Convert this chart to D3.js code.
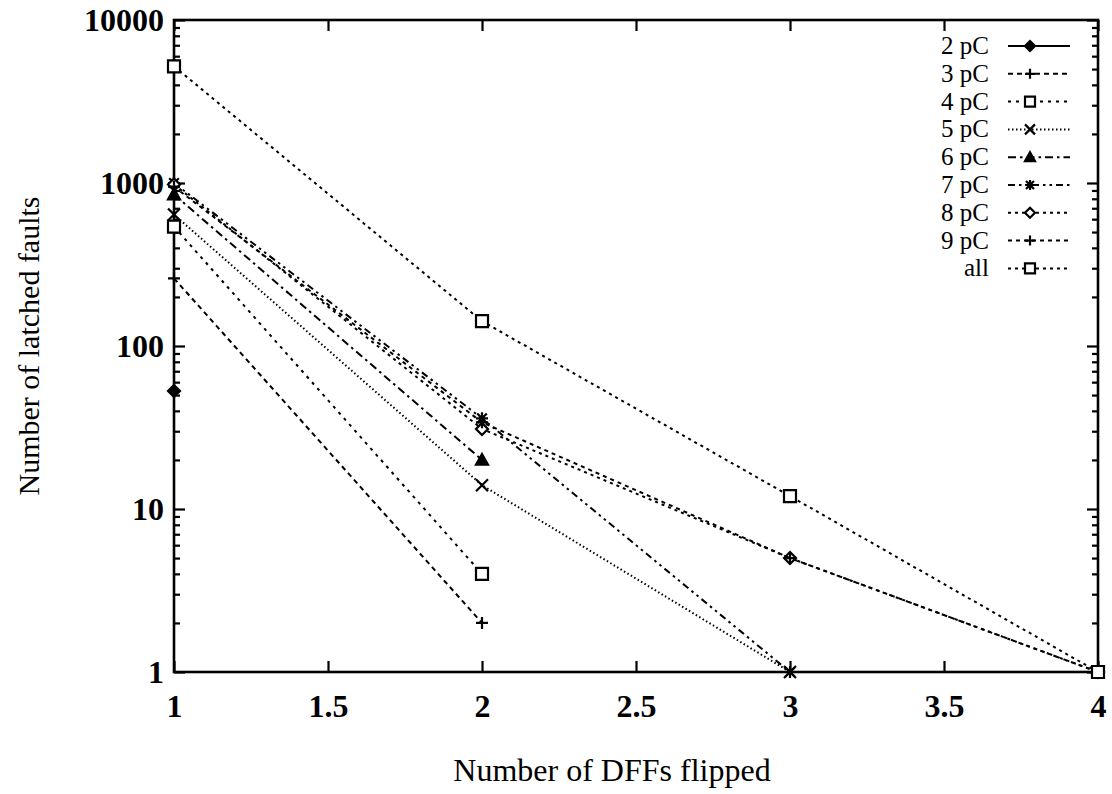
<!DOCTYPE html>
<html>
<head>
<meta charset="utf-8">
<script src="https://cdn.jsdelivr.net/npm/d3@7"></script>
<style>
  body { margin: 0; background: #fff; }
  text { font-family: "Liberation Serif", "DejaVu Serif", serif; fill: #000; }
</style>
</head>
<body>
<svg id="chart" width="1112" height="794"></svg>
<script>
// Latched faults per number of flipped DFFs, one series per injected charge
const seriesNames = ["2 pC", "3 pC", "4 pC", "5 pC", "6 pC", "7 pC", "8 pC", "9 pC", "all"];
const flipped = [1, 2, 3, 4];
const pc2 = [53];
const pc3 = [260, 2];
const pc4 = [540, 4];
const pc5 = [640, 14, 1];
const pc6 = [850, 20];
const pc7 = [1000, 36, 1];
const pc8 = [980, 31, 5, 1];
const pc9 = [950, 34, 5, 1];
const pcAll = [5200, 142, 12, 1];
const xTicks = [1, 1.5, 2, 2.5, 3, 3.5, 4];
const yTicks = [1, 10, 100, 1000, 10000];

const seriesValues = [pc2, pc3, pc4, pc5, pc6, pc7, pc8, pc9, pcAll];

// line pattern and point symbol for each series
const styles = [
  { dash: null,            mark: "diamond",  fill: "#000" },
  { dash: "5,4",           mark: "plus",     fill: "none" },
  { dash: "3,5",           mark: "square",   fill: "#fff" },
  { dash: "1.5,2.5",       mark: "times",    fill: "none" },
  { dash: "8,4,2.5,4",     mark: "triangle", fill: "#000" },
  { dash: "7,4,2.5,4,2.5,4", mark: "star",   fill: "none" },
  { dash: "3,4",           mark: "diamondO", fill: "#fff" },
  { dash: "4,4",           mark: "plus",     fill: "none" },
  { dash: "3,4",           mark: "square",   fill: "#fff" }
];

const W = 1112, H = 794;
const margin = { left: 174, right: 14, top: 20, bottom: 122 };
const svg = d3.select("#chart");

const x = d3.scaleLinear().domain([1, 4]).range([margin.left, W - margin.right]);
const y = d3.scaleLog().domain([1, 10000]).range([H - margin.bottom, margin.top]);

const minorY = [];
for (let d = 1; d < 10000; d *= 10)
  for (let k = 2; k <= 9; k++) minorY.push(d * k);

const x0 = x.range()[0], x1 = x.range()[1];
const yb = y.range()[0], yt = y.range()[1];

function styleAxis(g, fontSize) {
  g.select(".domain").remove();
  g.selectAll(".tick line").attr("stroke", "#000").attr("stroke-width", 2.2);
  g.selectAll(".tick text")
    .style("font-size", fontSize + "px")
    .style("font-weight", "bold")
    .attr("fill", "#000");
}

// bottom and top axes (ticks point inward)
svg.append("g").attr("transform", `translate(0,${yb})`)
  .call(d3.axisBottom(x).tickValues(xTicks).tickSize(-11).tickPadding(22).tickFormat(d3.format("")))
  .call(g => styleAxis(g, 32));
svg.append("g").attr("transform", `translate(0,${yt})`)
  .call(d3.axisTop(x).tickValues(xTicks).tickSize(-11).tickFormat(""))
  .call(g => styleAxis(g, 32));

// left and right log axes, decades labelled, minor ticks shorter
svg.append("g").attr("transform", `translate(${x0},0)`)
  .call(d3.axisLeft(y).tickValues(yTicks).tickSize(-11).tickPadding(10).tickFormat(d3.format("d")))
  .call(g => styleAxis(g, 32));
svg.append("g").attr("transform", `translate(${x0},0)`)
  .call(d3.axisLeft(y).tickValues(minorY).tickSize(-6).tickFormat(""))
  .call(g => styleAxis(g, 32));
svg.append("g").attr("transform", `translate(${x1},0)`)
  .call(d3.axisRight(y).tickValues(yTicks).tickSize(-11).tickFormat(""))
  .call(g => styleAxis(g, 32));
svg.append("g").attr("transform", `translate(${x1},0)`)
  .call(d3.axisRight(y).tickValues(minorY).tickSize(-6).tickFormat(""))
  .call(g => styleAxis(g, 32));

// frame
svg.append("rect")
  .attr("x", x0).attr("y", yt).attr("width", x1 - x0).attr("height", yb - yt)
  .attr("fill", "none").attr("stroke", "#000").attr("stroke-width", 2.6);

// axis titles
svg.append("text")
  .attr("x", 612).attr("y", 781)
  .attr("text-anchor", "middle")
  .style("font-size", "32px")
  .text("Number of DFFs flipped");
svg.append("text")
  .attr("transform", `translate(39,${(yb + yt) / 2}) rotate(-90)`)
  .attr("text-anchor", "middle")
  .style("font-size", "30px")
  .text("Number of latched faults");

function markPath(type, s) {
  switch (type) {
    case "diamond":
    case "diamondO": return `M0,${-s}L${s},0L0,${s}L${-s},0Z`;
    case "plus": return `M${-s},0H${s}M0,${-s}V${s}`;
    case "square": return `M${-s},${-s}H${s}V${s}H${-s}Z`;
    case "times": return `M${-s},${-s}L${s},${s}M${-s},${s}L${s},${-s}`;
    case "triangle": return `M0,${-s}L${s},${s * 0.8}L${-s},${s * 0.8}Z`;
    case "star": return `M${-s},0H${s}M0,${-s}V${s}M${-s * 0.8},${-s * 0.8}L${s * 0.8},${s * 0.8}M${-s * 0.8},${s * 0.8}L${s * 0.8},${-s * 0.8}`;
  }
}

const line = d3.line().x(d => x(d[0])).y(d => y(d[1]));
const plot = svg.append("g");

seriesValues.forEach((vals, i) => {
  const pts = vals.map((v, j) => [flipped[j], v]);
  const st = styles[i];
  if (pts.length > 1) {
    plot.append("path")
      .attr("d", line(pts))
      .attr("fill", "none")
      .attr("stroke", "#000")
      .attr("stroke-width", 2)
      .attr("stroke-dasharray", st.dash);
  }
  plot.selectAll(null).data(pts).enter().append("path")
    .attr("transform", d => `translate(${x(d[0])},${y(d[1])})`)
    .attr("d", markPath(st.mark, 6))
    .attr("fill", st.fill)
    .attr("stroke", "#000")
    .attr("stroke-width", 2.2);
});

// key in the upper right corner
const legend = svg.append("g");
seriesNames.forEach((name, i) => {
  const st = styles[i];
  const ly = 46 + i * 27.8;
  legend.append("text")
    .attr("x", 989).attr("y", ly + 8)
    .attr("text-anchor", "end")
    .style("font-size", "25px")
    .text(name);
  legend.append("line")
    .attr("x1", 1008).attr("x2", 1070).attr("y1", ly).attr("y2", ly)
    .attr("stroke", "#000").attr("stroke-width", 2)
    .attr("stroke-dasharray", st.dash);
  legend.append("path")
    .attr("transform", `translate(1030,${ly})`)
    .attr("d", markPath(st.mark, 5))
    .attr("fill", st.fill)
    .attr("stroke", "#000")
    .attr("stroke-width", 2.2);
});
</script>
</body>
</html>
